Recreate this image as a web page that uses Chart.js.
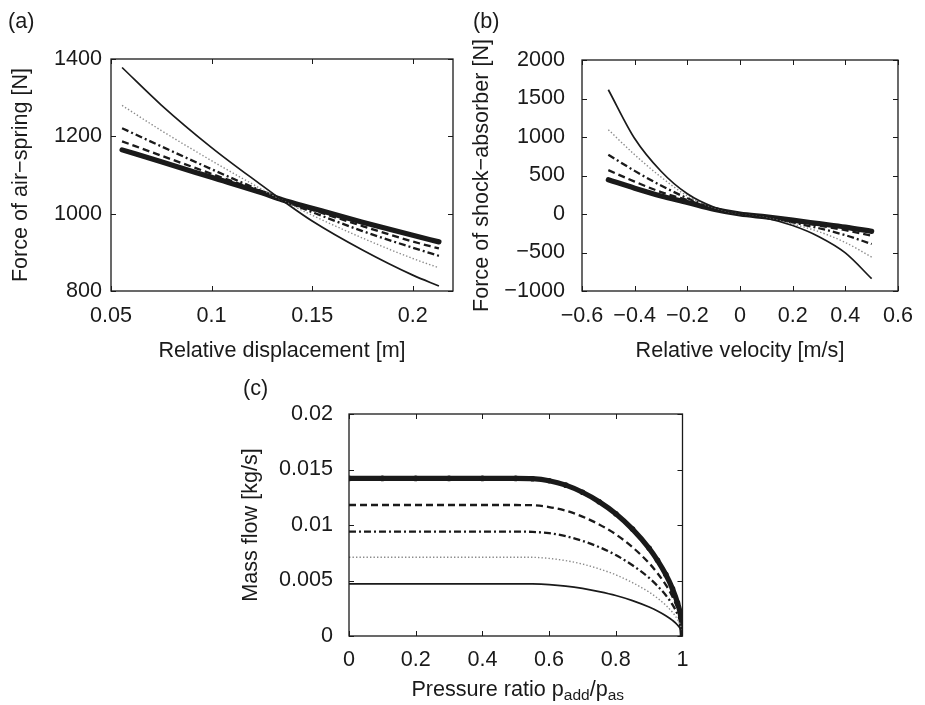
<!DOCTYPE html>
<html>
<head>
<meta charset="utf-8">
<title>Air-spring, shock-absorber and mass flow</title>
<script src="https://cdn.jsdelivr.net/npm/chart.js@4.4.1/dist/chart.umd.min.js"></script>
<style>
  body { margin: 0; background: #fff; width: 925px; height: 705px; position: relative; overflow: hidden; }
  canvas { position: absolute; }
</style>
</head>
<body>
<canvas id="chartA" width="462" height="365" style="left:0;top:0"></canvas>
<canvas id="chartB" width="463" height="365" style="left:462px;top:0"></canvas>
<canvas id="chartC" width="470" height="340" style="left:230px;top:365px"></canvas>
<script>
// (a) force of air-spring vs relative displacement
const dispX         = [0.0555, 0.075, 0.1, 0.125, 0.135, 0.15, 0.175, 0.2, 0.213];
const springSolid   = [1378, 1281, 1171, 1073, 1035, 981, 906, 841, 813];
const springDotted  = [1280, 1215, 1137, 1063, 1035, 996, 937, 884, 860];
const springDashDot = [1221, 1174, 1115, 1058, 1035, 1004, 955, 912, 891];
const springDashed  = [1187, 1150, 1103, 1056, 1036, 1010, 968, 928, 910];
const springThick   = [1165, 1134, 1094, 1054, 1036, 1014, 978, 944, 927];
const ticksAX = [0.05, 0.1, 0.15, 0.2];
const ticksAY = [800, 1000, 1200, 1400];

// (b) force of shock-absorber vs relative velocity
const velX         = [-0.5, -0.4, -0.3, -0.2, -0.1, 0, 0.1, 0.2, 0.3, 0.4, 0.5];
const shockSolid   = [1614, 980, 555, 262, 90, 0, -55, -150, -295, -505, -840];
const shockDotted  = [1095, 770, 480, 235, 84, 0, -50, -130, -230, -370, -560];
const shockDashDot = [770, 560, 370, 205, 78, 0, -45, -110, -185, -275, -390];
const shockDashed  = [570, 420, 285, 180, 70, 0, -42, -95, -150, -210, -282];
const shockThick   = [445, 335, 235, 150, 62, 0, -38, -80, -125, -170, -226];
const ticksBX = [-0.6, -0.4, -0.2, 0, 0.2, 0.4, 0.6];
const ticksBY = [-1000, -500, 0, 500, 1000, 1500, 2000];

// (c) mass flow vs pressure ratio
const ratioX      = [0, 0.1, 0.2, 0.3, 0.4, 0.5, 0.55, 0.6, 0.65, 0.7, 0.75, 0.8, 0.85, 0.9, 0.925, 0.95, 0.97, 0.985, 0.995, 1];
const flowThick   = [0.0142, 0.0142, 0.0142, 0.0142, 0.0142, 0.0142, 0.01417, 0.01399, 0.01359, 0.01295, 0.0121, 0.01102, 0.00963, 0.0079, 0.00682, 0.00554, 0.00426, 0.00298, 0.0017, 0];
const flowDashed  = [0.0118, 0.0118, 0.0118, 0.0118, 0.0118, 0.0118, 0.01178, 0.01162, 0.01129, 0.01076, 0.01005, 0.00916, 0.008, 0.00656, 0.00566, 0.0046, 0.00354, 0.00248, 0.00142, 0];
const flowDashDot = [0.0094, 0.0094, 0.0094, 0.0094, 0.0094, 0.0094, 0.00938, 0.00926, 0.009, 0.00857, 0.00801, 0.00729, 0.00637, 0.00523, 0.00451, 0.00367, 0.00282, 0.00197, 0.00113, 0];
const flowDotted  = [0.0071, 0.0071, 0.0071, 0.0071, 0.0071, 0.0071, 0.00709, 0.00699, 0.00679, 0.00648, 0.00605, 0.00551, 0.00481, 0.00395, 0.00341, 0.00277, 0.00213, 0.00149, 0.00085, 0];
const flowSolid   = [0.0047, 0.0047, 0.0047, 0.0047, 0.0047, 0.0047, 0.00469, 0.00463, 0.0045, 0.00429, 0.004, 0.00365, 0.00319, 0.00261, 0.00226, 0.00183, 0.00141, 0.00099, 0.00056, 0];
const ticksCX = [0, 0.2, 0.4, 0.6, 0.8, 1];
const ticksCY = [0, 0.005, 0.01, 0.015, 0.02];

const FONT = '"Liberation Sans", Arial, sans-serif';
const FS = 21.6;
const INK = '#1a1a1a';
Chart.defaults.font.family = FONT;
Chart.defaults.font.size = FS;
Chart.defaults.color = INK;

const styles = {
  solid:   { borderColor: INK, borderWidth: 1.7, borderDash: [] },
  dotted:  { borderColor: '#8a8a8a', borderWidth: 1.4, borderDash: [1.4, 2.1] },
  dashdot: { borderColor: INK, borderWidth: 2.3, borderDash: [7, 3, 2, 3] },
  dashed:  { borderColor: INK, borderWidth: 2.3, borderDash: [7, 4] },
  thick:   { borderColor: INK, borderWidth: 5.2, borderDash: [], borderCapStyle: 'round' }
};

function series(xs, ys, style, extra) {
  return Object.assign({
    data: xs.map((x, i) => ({ x: x, y: ys[i] })),
    pointRadius: 0,
    fill: false,
    cubicInterpolationMode: 'monotone'
  }, styles[style], extra || {});
}

function fmt(v) {
  return v < 0 ? '\u2212' + String(Math.abs(v)) : String(v);
}

// box round the plot with inward ticks on all four sides, plus panel letter
const frame = {
  id: 'frame',
  afterDraw(chart, args, opts) {
    const { ctx, chartArea: a, scales } = chart;
    ctx.save();
    ctx.strokeStyle = INK;
    ctx.lineWidth = 1.3;
    ctx.strokeRect(a.left, a.top, a.right - a.left, a.bottom - a.top);
    ctx.lineWidth = 1;
    ctx.beginPath();
    const t = 5;
    scales.x.ticks.forEach(k => {
      const p = Math.round(scales.x.getPixelForValue(k.value)) + 0.5;
      ctx.moveTo(p, a.bottom); ctx.lineTo(p, a.bottom - t);
      ctx.moveTo(p, a.top); ctx.lineTo(p, a.top + t);
    });
    scales.y.ticks.forEach(k => {
      const p = Math.round(scales.y.getPixelForValue(k.value)) + 0.5;
      ctx.moveTo(a.left, p); ctx.lineTo(a.left + t, p);
      ctx.moveTo(a.right, p); ctx.lineTo(a.right - t, p);
    });
    ctx.stroke();
    ctx.fillStyle = INK;
    ctx.font = FS + 'px ' + FONT;
    ctx.textBaseline = 'middle';
    ctx.textAlign = 'left';
    ctx.fillText(opts.label, opts.lx, opts.ly);
    if (opts.xTitle) {
      // title with subscripts
      const parts = opts.xTitle;
      const big = FS + 'px ' + FONT, small = '15.5px ' + FONT;
      let w = 0;
      parts.forEach(p => { ctx.font = p.sub ? small : big; w += ctx.measureText(p.t).width; });
      let x = (a.left + a.right) / 2 + 2 - w / 2;
      parts.forEach(p => {
        ctx.font = p.sub ? small : big;
        ctx.fillText(p.t, x, opts.ty + (p.sub ? 6 : 0));
        x += ctx.measureText(p.t).width;
      });
    }
    ctx.restore();
  }
};

function axis(min, max, tickList, title, fixed, tickPad, titlePad) {
  const horizontal = fixed.h !== undefined;
  return {
    type: 'linear',
    min: min,
    max: max,
    grid: { display: false, drawTicks: false },
    border: { display: false },
    afterBuildTicks: s => { s.ticks = tickList.map(v => ({ value: v })); },
    afterFit: s => { if (horizontal) s.height = fixed.h; else s.width = fixed.w; },
    ticks: { padding: tickPad, callback: v => fmt(v), color: INK, font: { size: FS } },
    title: { display: !!title, text: title, color: INK, font: { size: FS }, padding: titlePad }
  };
}

function makeChart(id, datasets, xs, ys, pad, plug) {
  return new Chart(document.getElementById(id), {
    type: 'line',
    data: { datasets: datasets },
    options: {
      responsive: false,
      animation: false,
      layout: { padding: pad, autoPadding: false },
      plugins: { legend: { display: false }, tooltip: { enabled: false }, frame: plug },
      scales: { x: xs, y: ys }
    },
    plugins: [frame]
  });
}

makeChart('chartA', [
  series(dispX, springSolid, 'solid'),
  series(dispX, springDotted, 'dotted'),
  series(dispX, springDashDot, 'dashdot'),
  series(dispX, springDashed, 'dashed'),
  series(dispX, springThick, 'thick')
],
  axis(0.05, 0.22, ticksAX, 'Relative displacement [m]', { h: 74 }, 12.5, { top: 0, bottom: 0.5 }),
  axis(800, 1400, ticksAY, 'Force of air\u2212spring [N]', { w: 111 }, 9, { top: 8.5, bottom: 0 }),
  { left: 0, top: 59, right: 9, bottom: 0 },
  { label: '(a)', lx: 8, ly: 22 });

makeChart('chartB', [
  series(velX, shockSolid, 'solid'),
  series(velX, shockDotted, 'dotted'),
  series(velX, shockDashDot, 'dashdot'),
  series(velX, shockDashed, 'dashed'),
  series(velX, shockThick, 'thick')
],
  axis(-0.6, 0.6, ticksBX, 'Relative velocity [m/s]', { h: 74 }, 12, { top: 0, bottom: 0.5 }),
  axis(-1000, 2000, ticksBY, 'Force of shock\u2212absorber [N]', { w: 120 }, 17, { top: 7.5, bottom: 0 }),
  { left: 0, top: 60, right: 15, bottom: 0 },
  { label: '(b)', lx: 11, ly: 22 });

makeChart('chartC', [
  series(ratioX, flowSolid, 'solid'),
  series(ratioX, flowDotted, 'dotted'),
  series(ratioX, flowDashDot, 'dashdot'),
  series(ratioX, flowDashed, 'dashed'),
  series(ratioX, flowThick, 'thick', { pointRadius: 2.8, pointBackgroundColor: INK, pointBorderWidth: 0 })
],
  axis(0, 1, ticksCX, '', { h: 69 }, 11.5, { top: 0, bottom: 0 }),
  axis(0, 0.02, ticksCY, 'Mass flow [kg/s]', { w: 119 }, 16, { top: 8.5, bottom: 0 }),
  { left: 0, top: 49, right: 15, bottom: 0 },
  { label: '(c)', lx: 13, ly: 24, ty: 325,
    xTitle: [{ t: 'Pressure ratio p' }, { t: 'add', sub: true }, { t: '/p' }, { t: 'as', sub: true }] });
</script>
</body>
</html>
